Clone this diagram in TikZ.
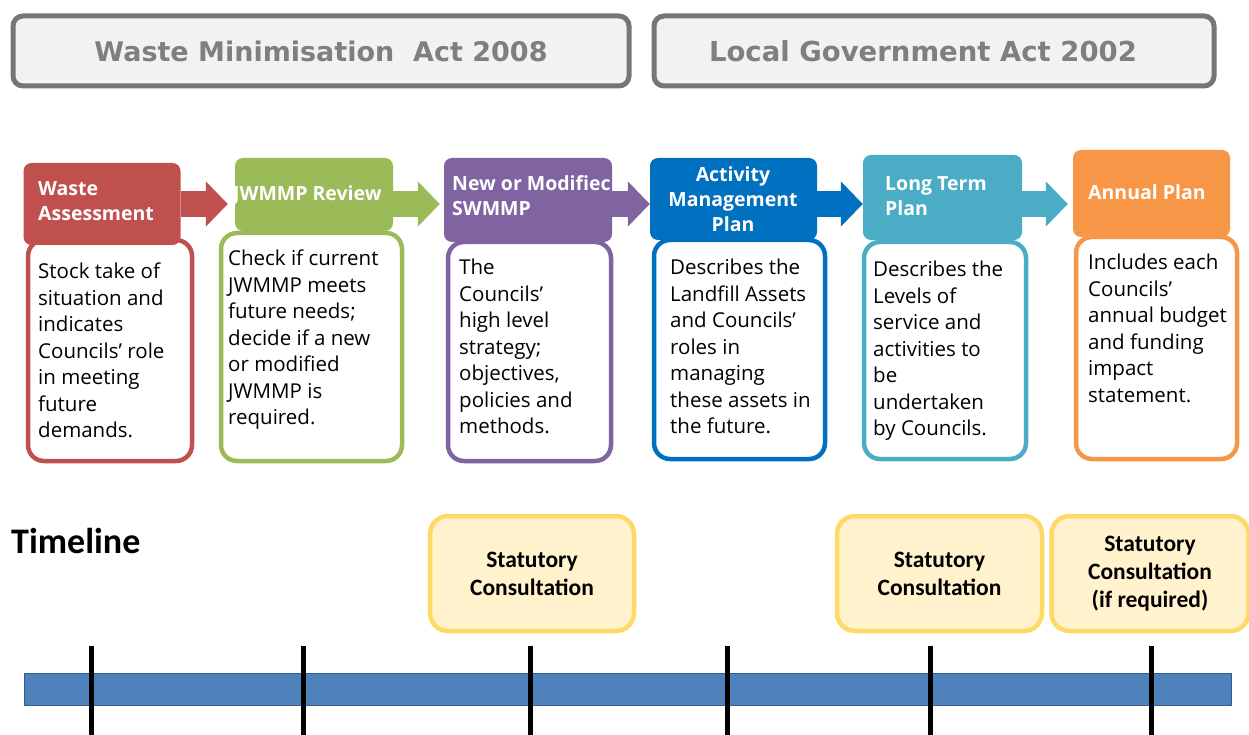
\documentclass[tikz,border=0pt]{standalone}
\usepackage{fontspec}
\setmainfont{Open Sans}
\newfontfamily\actfont{DejaVu Sans}
\newfontfamily\calfont{Carlito}
\usetikzlibrary{arrows.meta,positioning,calc}
\definecolor{cred}{HTML}{C0504D}
\definecolor{cgreen}{HTML}{9BBB59}
\definecolor{cpurple}{HTML}{8064A2}
\definecolor{cblue}{HTML}{0070C0}
\definecolor{cteal}{HTML}{4BACC6}
\definecolor{corange}{HTML}{F79646}
\definecolor{actgray}{HTML}{767676}
\definecolor{acttext}{HTML}{7F7F7F}
\definecolor{actfill}{HTML}{F2F2F2}
\definecolor{yfill}{HTML}{FFF2CC}
\definecolor{ydraw}{HTML}{FFD966}
\definecolor{barfill}{HTML}{4F81BD}
\definecolor{bardraw}{HTML}{385D8A}
\tikzset{
  actbox/.style={draw=actgray, line width=5pt, fill=actfill, rounded corners=10pt,
    minimum width=#1, minimum height=70pt, inner sep=0pt},
  acttxt/.style={inner sep=0pt, font=\actfont\bfseries\fontsize{27}{30}\selectfont, text=acttext},
  headbox/.style={fill=#1, rounded corners=8pt, inner sep=0pt},
  bodybox/.style={draw=#1, line width=4.5pt, fill=white, rounded corners=16pt, inner sep=0pt},
  headtext/.style={text=white, inner sep=0pt, align=left, font=\bfseries\fontsize{19.5}{25}\selectfont},
  bodytext/.style={inner sep=0pt, align=left, anchor=north west, font=\fontsize{20.5}{26.5}\selectfont},
  blockarrow/.style={draw=#1, line width=26pt, -{Triangle[length=22pt,width=44pt]}},
  ybox/.style={draw=ydraw, fill=yfill, line width=4.5pt, rounded corners=18pt,
    minimum width=#1, minimum height=115pt, inner sep=0pt, align=center,
    font=\calfont\bfseries\fontsize{23.5}{28}\selectfont},
  tick/.style={line width=5pt, draw=black}
}
\begin{document}
\begin{tikzpicture}[x=1pt,y=-1pt]
\useasboundingbox (0,0) rectangle (1249,735);
% Acts
\node[actbox=616pt] (act1) at (321,51) {};
\node[actbox=560pt] (act2) at (934,51) {};
\node[acttxt] (act1t) at (321,51) {Waste Minimisation\ \ Act 2008};
\node[acttxt, font=\actfont\bfseries\fontsize{27.5}{30}\selectfont] (act2t) at (923,51) {Local Government Act 2002};
% body boxes
\path[bodybox=cred] (28,240) rectangle (192,461);
\path[bodybox=cgreen] (221,233) rectangle (402,461);
\path[bodybox=cpurple] (448,242) rectangle (611,461);
\path[bodybox=cblue] (654,240) rectangle (825,459);
\path[bodybox=cteal] (864,242) rectangle (1026,459);
\path[bodybox=corange] (1076,237) rectangle (1237,459);
% headers
\node[headbox=cred, minimum width=157pt, minimum height=82pt] (h1) at (102,204) {};
\node[headbox=cgreen, minimum width=158pt, minimum height=73pt] (h2) at (314,194.5) {};
\node[headbox=cpurple, minimum width=168pt, minimum height=84pt] (h3) at (528,200) {};
\node[headbox=cblue, minimum width=167pt, minimum height=82pt] (h4) at (733.5,199) {};
\node[headbox=cteal, minimum width=159pt, minimum height=85pt] (h5) at (942.5,197.5) {};
\node[headbox=corange, minimum width=157pt, minimum height=87pt] (h6) at (1151.5,193.5) {};
% arrows
\coordinate (ay) at (0,204);
\draw[blockarrow=cred] (h1.east |- ay) -- ($(h2.west |- ay)+(-7,0)$);
\draw[blockarrow=cgreen] (h2.east |- ay) -- ($(h3.west |- ay)+(-4,0)$);
\draw[blockarrow=cpurple] (h3.east |- ay) -- (h4.west |- ay);
\draw[blockarrow=cblue] (h4.east |- ay) -- (h5.west |- ay);
\draw[blockarrow=cteal] (h5.east |- ay) -- ($(h6.west |- ay)+(-5,0)$);
% header texts
\node[headtext, anchor=west] (t1) at (38,201) {Waste\\Assessment};
\node[headtext, anchor=west] (t2) at (233,195) {JWMMP Review};
\node[headtext, anchor=west] (t3) at (452,196) {New or Modifiec\\SWMMP};
\node[headtext, align=center] (t4) at (733,199) {Activity\\Management\\Plan};
\node[headtext, anchor=west] (t5) at (885,196) {Long Term\\Plan};
\node[headtext, anchor=west] (t6) at (1088,192) {Annual Plan};
% body texts
\node[bodytext] (b1) at (38,263) {Stock take of\\situation and\\indicates\\Councils’ role\\in meeting\\future\\demands.};
\node[bodytext] (b2) at (228,250) {Check if current\\JWMMP meets\\future needs;\\decide if a new\\or modified\\JWMMP is\\required.};
\node[bodytext] (b3) at (459,259) {The\\Councils’\\high level\\strategy;\\objectives,\\policies and\\methods.};
\node[bodytext] (b4) at (670,259) {Describes the\\Landfill Assets\\and Councils’\\roles in\\managing\\these assets in\\the future.};
\node[bodytext] (b5) at (873,261) {Describes the\\Levels of\\service and\\activities to\\be\\undertaken\\by Councils.};
\node[bodytext] (b6) at (1088,254) {Includes each\\Councils’\\annual budget\\and funding\\impact\\statement.};
% timeline
\node[anchor=west, inner sep=0pt, font=\calfont\bfseries\fontsize{36}{38}\selectfont] (tl) at (11,541) {Timeline};
\node[ybox=204pt] (s1) at (532,573.5) {Statutory\\Consultation};
\node[ybox=205pt] (s2) at (939.5,573.5) {Statutory\\Consultation};
\node[ybox=197pt] (s3) at (1150,573.5) {Statutory\\Consultation\\(if required)};
\node[draw=bardraw, fill=barfill, line width=1.5pt, minimum width=1207pt, minimum height=32pt, inner sep=0pt] (bar) at (628,689.5) {};
\foreach \tx/\nm in {91/k1,303/k2,530/k3,727/k4,930/k5,1151/k6}{
  \coordinate (\nm a) at (\tx,646);
  \coordinate (\nm b) at (\tx,735);
  \draw[tick] (\nm a) -- (\nm b);
}
\end{tikzpicture}
\end{document}
